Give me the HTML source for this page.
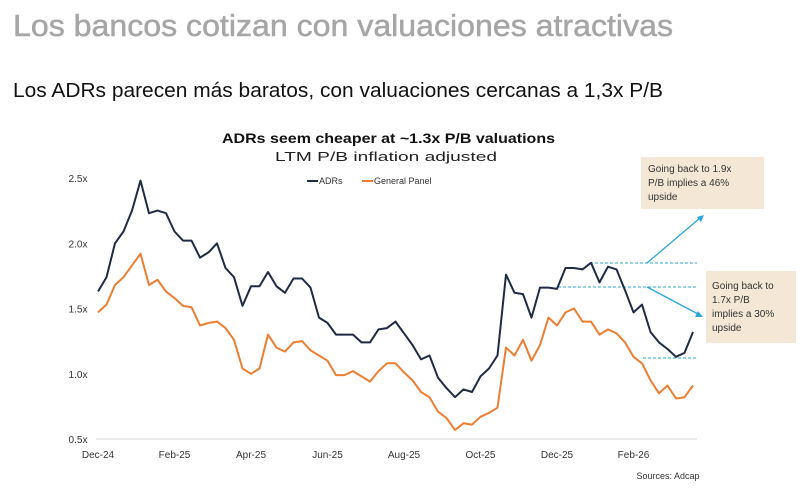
<!DOCTYPE html>
<html><head><meta charset="utf-8"><style>
html,body{margin:0;padding:0;background:#fff;width:800px;height:499px;overflow:hidden}
svg{display:block;font-family:"Liberation Sans",sans-serif}
</style></head><body>
<svg id="chart" width="800" height="499" viewBox="0 0 800 499">
<text x="13" y="36" font-size="31" fill="#a6a6a6" stroke="#a6a6a6" stroke-width="0.5" textLength="660" lengthAdjust="spacingAndGlyphs">Los bancos cotizan con valuaciones atractivas</text>
<text x="13" y="97" font-size="20" fill="#111" textLength="650" lengthAdjust="spacingAndGlyphs">Los ADRs parecen más baratos, con valuaciones cercanas a 1,3x P/B</text>
<text x="222" y="143" font-size="14" font-weight="bold" fill="#111" textLength="333" lengthAdjust="spacingAndGlyphs">ADRs seem cheaper at ~1.3x P/B valuations</text>
<text x="275" y="161" font-size="13" fill="#222" textLength="222" lengthAdjust="spacingAndGlyphs">LTM P/B inflation adjusted</text>
<g>
<line x1="307" y1="181" x2="318" y2="181" stroke="#1f2a44" stroke-width="2"/>
<text x="319" y="184" font-size="9" fill="#333">ADRs</text>
<line x1="362" y1="181" x2="373" y2="181" stroke="#ed7d31" stroke-width="2"/>
<text x="374" y="184" font-size="9" fill="#333">General Panel</text>
</g>
<line x1="96" y1="439" x2="697" y2="439" stroke="#d9d9d9" stroke-width="1"/>
<g id="yticks"></g>
<g id="xticks"></g>
<g>
<line x1="590" y1="263" x2="697" y2="263" stroke="#2aa7d8" stroke-width="1" stroke-dasharray="3,2"/>
<line x1="558" y1="287" x2="697" y2="287" stroke="#2aa7d8" stroke-width="1" stroke-dasharray="3,2"/>
<line x1="643" y1="358" x2="697" y2="358" stroke="#2aa7d8" stroke-width="1" stroke-dasharray="3,2"/>
<line x1="647" y1="263" x2="700" y2="218" stroke="#2aa7d8" stroke-width="1.3"/>
<polygon points="704,215 697,217 701,222" fill="#2aa7d8"/>
<line x1="647" y1="287" x2="698" y2="314" stroke="#2aa7d8" stroke-width="1.3"/>
<polygon points="703,317 695,317 698,311" fill="#2aa7d8"/>
</g>
<g id="series"></g>
<g>
<rect x="641" y="157" width="123" height="52" fill="#f4e7d5"/>
<text x="648" y="172" font-size="10" fill="#333">Going back to 1.9x</text>
<text x="648" y="186" font-size="10" fill="#333">P/B implies a 46%</text>
<text x="648" y="200" font-size="10" fill="#333">upside</text>
</g>
<g>
<rect x="706" y="271" width="90" height="72" fill="#f4e7d5"/>
<text x="712" y="289" font-size="10" fill="#333">Going back to</text>
<text x="712" y="303" font-size="10" fill="#333">1.7x P/B</text>
<text x="712" y="317" font-size="10" fill="#333">implies a 30%</text>
<text x="712" y="331" font-size="10" fill="#333">upside</text>
</g>
<text x="668" y="479" font-size="9" fill="#333" text-anchor="middle">Sources: Adcap</text>
</svg>
<script>
const adrs = [1.63,1.74,2.00,2.09,2.25,2.48,2.23,2.25,2.23,2.09,2.02,2.02,1.89,1.93,2.00,1.81,1.74,1.52,1.67,1.67,1.78,1.67,1.62,1.73,1.73,1.66,1.43,1.39,1.30,1.30,1.30,1.24,1.24,1.34,1.35,1.40,1.31,1.22,1.11,1.14,0.97,0.89,0.82,0.88,0.86,0.98,1.04,1.14,1.76,1.62,1.61,1.43,1.66,1.66,1.65,1.81,1.81,1.80,1.85,1.70,1.82,1.80,1.64,1.47,1.53,1.32,1.24,1.19,1.13,1.16,1.32];
const generalPanel = [1.47,1.53,1.68,1.74,1.83,1.92,1.68,1.72,1.63,1.58,1.52,1.51,1.37,1.39,1.40,1.35,1.26,1.04,1.00,1.04,1.30,1.20,1.17,1.24,1.25,1.18,1.14,1.10,0.99,0.99,1.02,0.98,0.94,1.02,1.08,1.08,1.01,0.95,0.86,0.82,0.71,0.66,0.57,0.62,0.61,0.67,0.70,0.74,1.20,1.14,1.26,1.10,1.22,1.43,1.37,1.47,1.50,1.40,1.40,1.30,1.34,1.31,1.24,1.13,1.08,0.95,0.85,0.91,0.81,0.82,0.91];
const yTicks = [0.5,1.0,1.5,2.0,2.5];
const yTickLabels = ["0.5x","1.0x","1.5x","2.0x","2.5x"];
const xTickLabels = ["Dec-24","Feb-25","Apr-25","Jun-25","Aug-25","Oct-25","Dec-25","Feb-26"];
const xTickIndex = [0,9,18,27,36,45,54,63];

const NS="http://www.w3.org/2000/svg";
const n = adrs.length;
const xS = i => 98 + i*(595/(n-1));
const yS = v => 439 - (v-0.5)*130.5;

const yg=document.getElementById('yticks');
yTicks.forEach((v,k)=>{
  const t=document.createElementNS(NS,'text');
  t.setAttribute('x',78);t.setAttribute('y',yS(v)+4);
  t.setAttribute('font-size','10');t.setAttribute('fill','#333');t.setAttribute('text-anchor','middle');
  t.textContent=yTickLabels[k];
  
  
  yg.appendChild(t);
});
const xg=document.getElementById('xticks');
xTickLabels.forEach((l,k)=>{
  const t=document.createElementNS(NS,'text');
  t.setAttribute('x',xS(xTickIndex[k]));t.setAttribute('y',458);
  t.setAttribute('font-size','10');t.setAttribute('fill','#333');t.setAttribute('text-anchor','middle');
  t.textContent=l;
  
  
  xg.appendChild(t);
});
const sg=document.getElementById('series');
function line(data,color,name){
  const p=document.createElementNS(NS,'polyline');
  p.setAttribute('points',data.map((v,i)=>xS(i).toFixed(1)+','+yS(v).toFixed(1)).join(' '));
  p.setAttribute('fill','none');p.setAttribute('stroke',color);p.setAttribute('stroke-width','2');
  p.setAttribute('stroke-linejoin','round');
  
  
  sg.appendChild(p);
}
line(generalPanel,'#ed7d31','general-panel-line');
line(adrs,'#1f2a44','adrs-line');
</script>
</body></html>
